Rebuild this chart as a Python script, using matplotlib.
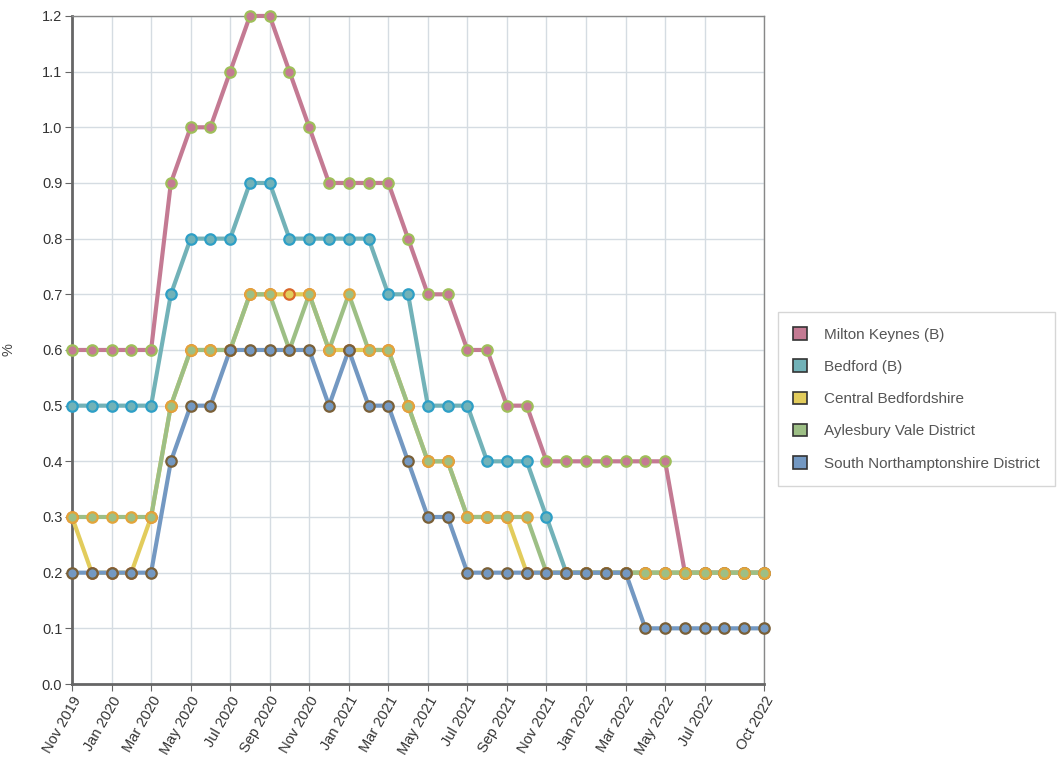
import numpy as np
import pandas as pd
import matplotlib.pyplot as plt
from matplotlib.patches import Patch

plt.rcParams['font.family'] = ['Liberation Sans', 'DejaVu Sans']

months = pd.date_range('2019-11-01', '2022-10-01', freq='MS').strftime('%b %Y').tolist()

milton_keynes = [0.6, 0.6, 0.6, 0.6, 0.6, 0.9, 1.0, 1.0, 1.1, 1.2, 1.2, 1.1,
                 1.0, 0.9, 0.9, 0.9, 0.9, 0.8, 0.7, 0.7, 0.6, 0.6, 0.5, 0.5,
                 0.4, 0.4, 0.4, 0.4, 0.4, 0.4, 0.4, 0.2, 0.2, 0.2, 0.2, 0.2]
bedford = [0.5, 0.5, 0.5, 0.5, 0.5, 0.7, 0.8, 0.8, 0.8, 0.9, 0.9, 0.8,
           0.8, 0.8, 0.8, 0.8, 0.7, 0.7, 0.5, 0.5, 0.5, 0.4, 0.4, 0.4,
           0.3, 0.2, 0.2, 0.2, 0.2, 0.2, 0.2, 0.2, 0.2, 0.2, 0.2, 0.2]
central_beds = [0.3, 0.2, 0.2, 0.2, 0.3, 0.5, 0.6, 0.6, 0.6, 0.7, 0.7, 0.7,
                0.7, 0.6, 0.6, 0.6, 0.6, 0.5, 0.4, 0.4, 0.3, 0.3, 0.3, 0.2,
                0.2, 0.2, 0.2, 0.2, 0.2, 0.2, 0.2, 0.2, 0.2, 0.2, 0.2, 0.2]
aylesbury = [0.3, 0.3, 0.3, 0.3, 0.3, 0.5, 0.6, 0.6, 0.6, 0.7, 0.7, 0.6,
             0.7, 0.6, 0.7, 0.6, 0.6, 0.5, 0.4, 0.4, 0.3, 0.3, 0.3, 0.3,
             0.2, 0.2, 0.2, 0.2, 0.2, 0.2, 0.2, 0.2, 0.2, 0.2, 0.2, 0.2]
south_northants = [0.2, 0.2, 0.2, 0.2, 0.2, 0.4, 0.5, 0.5, 0.6, 0.6, 0.6, 0.6,
                   0.6, 0.5, 0.6, 0.5, 0.5, 0.4, 0.3, 0.3, 0.2, 0.2, 0.2, 0.2,
                   0.2, 0.2, 0.2, 0.2, 0.2, 0.1, 0.1, 0.1, 0.1, 0.1, 0.1, 0.1]

names = ['Milton Keynes (B)', 'Bedford (B)', 'Central Bedfordshire',
         'Aylesbury Vale District', 'South Northamptonshire District']
series = [milton_keynes, bedford, central_beds, aylesbury, south_northants]
line_colors = ['#c47a93', '#72b2b8', '#e2cc5c', '#9dbf85', '#7398c2']
edge_colors = ['#9fbf5a', '#2e9fc6', '#d9662a', '#e3a53a', '#7a6038']

fig = plt.figure(figsize=(10.59, 7.6), dpi=100)
ax = fig.add_axes([0.068, 0.1, 0.6534, 0.879])

x = np.arange(len(months))
for vals, c, ec, n in zip(series, line_colors, edge_colors, names):
    ax.plot(x, vals, color=c, lw=3, solid_capstyle='round', zorder=3, clip_on=False)
    ax.plot(x, vals, ls='none', marker='o', ms=7.5, mfc=c, mec=ec, mew=1.6,
            zorder=4, clip_on=False)

ticks = list(range(0, 34, 2)) + [35]
ax.set_xticks(ticks)
ax.set_xticklabels([months[i] for i in ticks], rotation=60, ha='right',
                   rotation_mode='anchor', fontsize=10.5, color='#333333')
ax.set_xlim(0, 35)
ax.set_ylim(0, 1.2)
ax.set_yticks(np.arange(0, 1.21, 0.1))
ax.set_yticklabels([f'{v:.1f}' for v in np.arange(0, 1.21, 0.1)], fontsize=10.5, color='#333333')
ax.set_ylabel('%', fontsize=10.5, color='#444444')
ax.yaxis.set_label_coords(-0.082, 0.5)

ax.grid(True, color='#d5dce2', lw=1)
ax.set_axisbelow(True)
for s in ['top', 'right']:
    ax.spines[s].set_color('#888888')
    ax.spines[s].set_linewidth(1)
for s in ['left', 'bottom']:
    ax.spines[s].set_color('#666666')
    ax.spines[s].set_linewidth(2)
ax.tick_params(length=5, color='#666666', pad=2)

handles = [Patch(facecolor=c, edgecolor='#333333', lw=1.2) for c in line_colors]
leg = fig.legend(handles, names, loc='upper left', bbox_to_anchor=(0.7347, 0.5895),
                 frameon=True, fontsize=11, handlelength=0.9, handleheight=0.9,
                 labelspacing=1.15, borderpad=1.0, borderaxespad=0,
                 handletextpad=1.1, fancybox=False)
leg.get_frame().set_edgecolor('#cccccc')
for t in leg.get_texts():
    t.set_color('#555555')

plt.savefig('out.png', dpi=100)
